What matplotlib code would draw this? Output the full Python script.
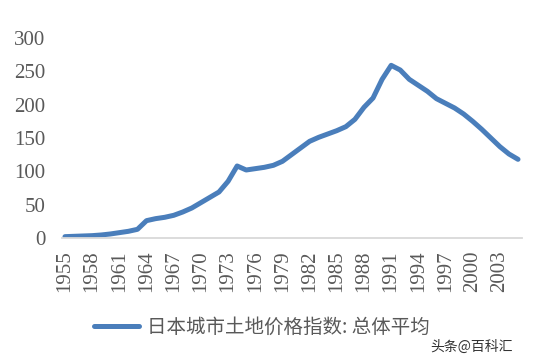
import matplotlib
matplotlib.use("Agg")
import matplotlib.pyplot as plt

# 日本城市土地价格指数: 总体平均
years = list(range(1955, 2006))
index_vals = [2, 2.5, 3, 3.5, 4.5, 6, 8, 10, 13, 26,
              29, 31, 34, 39, 45, 53, 61, 69, 85, 108,
              102, 104, 106, 109, 115, 125, 135, 145, 151, 156,
              161, 167, 178, 196, 210, 238, 259, 252, 238, 229,
              220, 209, 202, 195, 186, 175, 163, 150, 137, 126,
              118]
tick_years = list(range(1955, 2004, 3))
y_ticks = [0, 50, 100, 150, 200, 250, 300]
series_name = "日本城市土地价格指数: 总体平均"
watermark = "头条@百科汇"

line_color = "#4A7EBB"
text_color = "#595959"

fig = plt.figure(figsize=(5.51, 3.63), dpi=100)
ax = fig.add_axes([0.113, 0.3444, 0.8337, 0.5509])

ln, = ax.plot(years, index_vals, color=line_color, lw=3.6,
              solid_joinstyle="round", solid_capstyle="round")

ax.set_xlim(1954.7, 2005.4)
ax.set_ylim(0, 300)
ax.set_xticks(tick_years)
ax.set_xticklabels([str(y) for y in tick_years], rotation=90)
ax.set_yticks(y_ticks)
ax.set_yticklabels([str(v) for v in y_ticks])

for lab in ax.get_xticklabels() + ax.get_yticklabels():
    lab.set_fontfamily("Liberation Serif")
    lab.set_fontsize(15)
    lab.set_color(text_color)

ax.tick_params(axis="both", length=0)
ax.tick_params(axis="y", pad=12)
ax.tick_params(axis="x", pad=9)
for s in ["top", "right", "left"]:
    ax.spines[s].set_visible(False)
ax.spines["bottom"].set_color("#D9D9D9")
ax.spines["bottom"].set_linewidth(1.3)

fig.legend([ln], [series_name], loc="center", bbox_to_anchor=(0.4755, 0.099),
           frameon=False, handlelength=2.3, handletextpad=0.45, borderpad=0,
           prop={"family": ["Noto Sans CJK SC", "DejaVu Sans"], "size": 14},
           labelcolor=text_color)

fig.text(0.93, 0.045, watermark, ha="right", va="center", fontsize=10,
         color="#333333", family=["Noto Sans CJK SC", "DejaVu Sans"])

fig.savefig("out.png", dpi=100)
